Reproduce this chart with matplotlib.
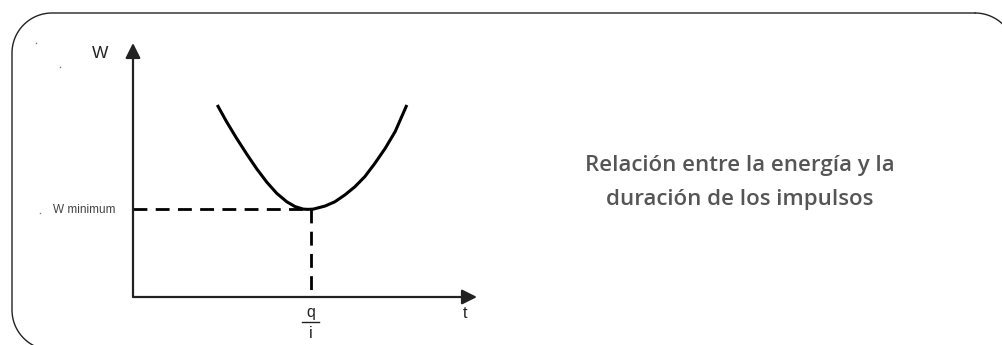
import matplotlib
matplotlib.use('Agg')
import matplotlib.pyplot as plt
import numpy as np

# Curve (t, W in diagram units, axes run 0..10)
t_curve = [2.45, 2.72, 3.01, 3.31, 3.60, 3.89, 4.18, 4.47, 4.71, 4.95, 5.09, 5.24,
           5.58, 5.87, 6.16, 6.45, 6.74, 7.03, 7.33, 7.62, 7.96]
w_curve = [7.56, 6.90, 6.25, 5.62, 5.04, 4.52, 4.08, 3.75, 3.56, 3.46, 3.45, 3.46,
           3.58, 3.75, 4.02, 4.34, 4.74, 5.26, 5.85, 6.51, 7.56]
t_min = 5.16
w_min = 3.46

title_lines = ['Relación entre la energía y la', 'duración de los impulsos']

fig = plt.figure(figsize=(10.03, 3.45), dpi=100)

# background axes in pixel coordinates (y up) for the frame and side text
bg = fig.add_axes([0, 0, 1, 1])
bg.set_xlim(0, 1003)
bg.set_ylim(0, 345)
bg.axis('off')

# rounded frame, running off the right and bottom edges
r = 40
left, right, top, bottom = 12, 1015, 332, -5
a_br = np.linspace(0, np.pi / 2, 30)
a_tl = np.linspace(np.pi / 2, np.pi, 30)
a_bl = np.linspace(np.pi, 1.5 * np.pi, 30)
bg.plot(right - r + r * np.cos(a_br), top - r + r * np.sin(a_br), color='#222222', lw=1.0)
fx = np.concatenate([[right - r], left + r + r * np.cos(a_tl), left + r + r * np.cos(a_bl)])
fy = np.concatenate([[top], top - r + r * np.sin(a_tl), bottom + r + r * np.sin(a_bl)])
bg.plot(fx, fy, color='#222222', lw=1.0)

bg.plot([36, 60, 40], [302, 278, 132], 's', ms=1, color='#777777', mew=0)

bg.text(740, 180, title_lines[0], ha='center', va='center', fontsize=16,
        family='Open Sans', weight='semibold', color='#555555')
bg.text(740, 145, title_lines[1], ha='center', va='center', fontsize=16,
        family='Open Sans', weight='semibold', color='#555555')

# diagram axes: origin at (133, 297) px, size 344 x 254 px
ax = fig.add_axes([133 / 1003, (345 - 297) / 345, 344 / 1003, 254 / 345])
ax.set_xlim(0, 10)
ax.set_ylim(0, 10)
ax.axis('off')

ax.annotate('', xy=(0, 10), xytext=(0, 0),
            arrowprops=dict(arrowstyle='-|>,head_length=0.9,head_width=0.45',
                            color='#222222', lw=1.6, shrinkA=0, shrinkB=0))
ax.annotate('', xy=(10, 0), xytext=(0, 0),
            arrowprops=dict(arrowstyle='-|>,head_length=0.9,head_width=0.45',
                            color='#222222', lw=1.6, shrinkA=0, shrinkB=0))

ax.plot(t_curve, w_curve, color='black', lw=2.2, solid_capstyle='butt',
        solid_joinstyle='round')
ax.plot([0, t_min], [w_min, w_min], color='black', lw=2, dashes=(5, 3))
ax.plot([t_min, t_min], [w_min, 0], color='black', lw=2, dashes=(5, 3))

# labels
ax.text(-0.95, 9.6, 'W', ha='center', va='center', fontsize=12.5,
        family='Liberation Sans', color='#222222', clip_on=False)
ax.text(-1.42, w_min - 0.05, 'W minimum', ha='center', va='center', fontsize=8.5,
        family='Liberation Sans', color='#444444', clip_on=False)
ax.text(t_min, -0.6, 'q', ha='center', va='center', fontsize=11.5,
        family='Liberation Sans', color='#222222', clip_on=False)
ax.plot([t_min - 0.24, t_min + 0.24], [-0.98, -0.98], color='#222222', lw=1,
        clip_on=False)
ax.text(t_min, -1.42, 'i', ha='center', va='center', fontsize=11.5,
        family='Liberation Sans', color='#222222', clip_on=False)
ax.text(9.65, -0.65, 't', ha='center', va='center', fontsize=11.5,
        family='Liberation Sans', color='#222222', clip_on=False)

fig.savefig('out.png', dpi=100)
